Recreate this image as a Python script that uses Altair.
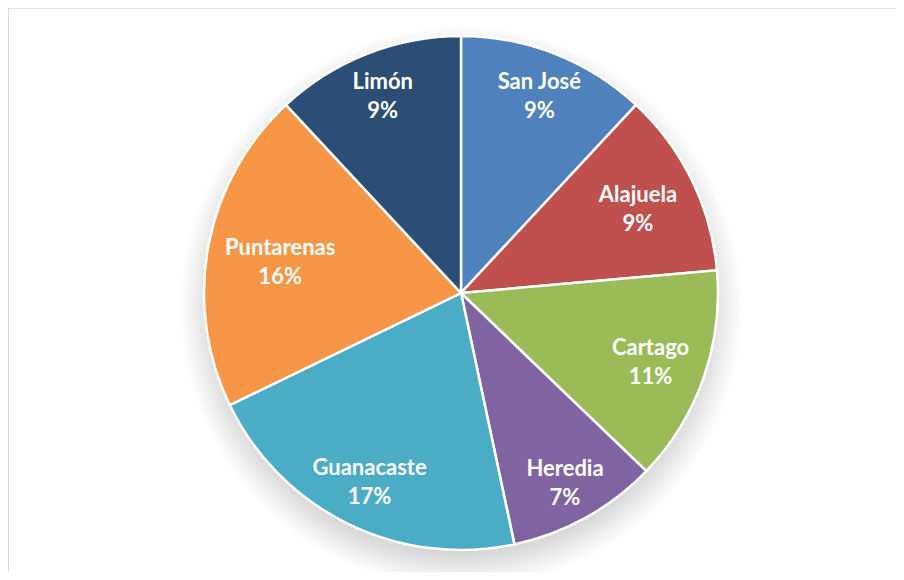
import altair as alt
import pandas as pd
import math

provinces = ["San José", "Alajuela", "Cartago", "Heredia", "Guanacaste", "Puntarenas", "Limón"]
values = [9.3, 9.1, 10.6, 7.4, 16.5, 15.8, 9.3]
pct_labels = ["9%", "9%", "11%", "7%", "17%", "16%", "9%"]
colors = ["#4F81BD", "#C0504D", "#9BBB59", "#8064A2", "#4BACC6", "#F79646", "#2C4D75"]

W, H = 888, 564
CX, CY = 453, 285
R = 257
FS = 22
LH = 29

df = pd.DataFrame({
    "provincia": provinces,
    "valor": values,
    "pct": pct_labels,
    "orden": list(range(len(provinces))),
})
df["label"] = df["provincia"] + "\n" + df["pct"]
total = sum(values)


# best-fit label radius: as far out as 214px while the label's width stays well inside the pie
def fit_radius(name, mid):
    w = 10.5 * len(name)
    best = 120
    r = 120.0
    while r <= 214:
        cx = r * math.sin(mid)
        cy = -r * math.cos(mid)
        ok = all(math.hypot(cx + sx * w / 2, cy) <= R - 21 for sx in (-1, 1))
        if ok:
            best = r
        r += 1
    return best


acc = 0.0
radii = []
for name, v in zip(provinces, values):
    mid = 2 * math.pi * (acc + v / 2) / total
    radii.append(fit_radius(name, mid))
    acc += v
df["lr"] = radii

# soft shadow rings (decoration)
rings = pd.DataFrame({"r": [R + 2 + 3 * i for i in range(20)]})
rings["s"] = rings["r"].apply(lambda r: math.pi * r * r)
shadow = alt.Chart(rings).mark_circle(color="black", opacity=0.013, stroke=None).encode(
    x=alt.value(CX), y=alt.value(CY + 14), size=alt.Size("s:Q", scale=None, legend=None)
)

theta_scale = alt.Scale(domain=[0, total], range=[0, 2 * math.pi])
color = alt.Color("provincia:N", scale=alt.Scale(domain=provinces, range=colors), legend=None)

pie = alt.Chart(df).mark_arc(radius=R, stroke="white", strokeWidth=2.5).encode(
    theta=alt.Theta("valor:Q", stack=True, scale=theta_scale),
    order=alt.Order("orden:Q"), color=color, x=alt.value(CX), y=alt.value(CY)
)

labels = alt.Chart(df).transform_window(
    cum="sum(valor)", sort=[alt.SortField("orden")], frame=[None, 0]
).transform_calculate(
    mid="datum.cum - datum.valor / 2"
).mark_text(
    color="white", font="Lato", fontWeight="bold", fontSize=FS,
    lineBreak="\n", lineHeight=LH, baseline="middle", align="center", dy=-LH / 2 + 3
).encode(
    theta=alt.Theta("mid:Q", stack=None, scale=theta_scale),
    text="label:N",
    radius=alt.Radius("lr:Q", scale=None),
    x=alt.value(CX), y=alt.value(CY),
)

frame_top = alt.Chart(pd.DataFrame({"a": [0]})).mark_rule(color="#d9d9d9", strokeWidth=1.5).encode(
    x=alt.value(0), x2=alt.value(W), y=alt.value(0)
)
frame_left = alt.Chart(pd.DataFrame({"a": [0]})).mark_rule(color="#d9d9d9", strokeWidth=2).encode(
    x=alt.value(0), y=alt.value(0), y2=alt.value(H)
)

chart = alt.layer(shadow, pie, labels, frame_top, frame_left).properties(
    width=W, height=H, padding=0, autosize=alt.AutoSizeParams(type="none")
).configure_view(stroke=None)

chart.save("out.html", embed_options={"renderer": "svg", "actions": False})
